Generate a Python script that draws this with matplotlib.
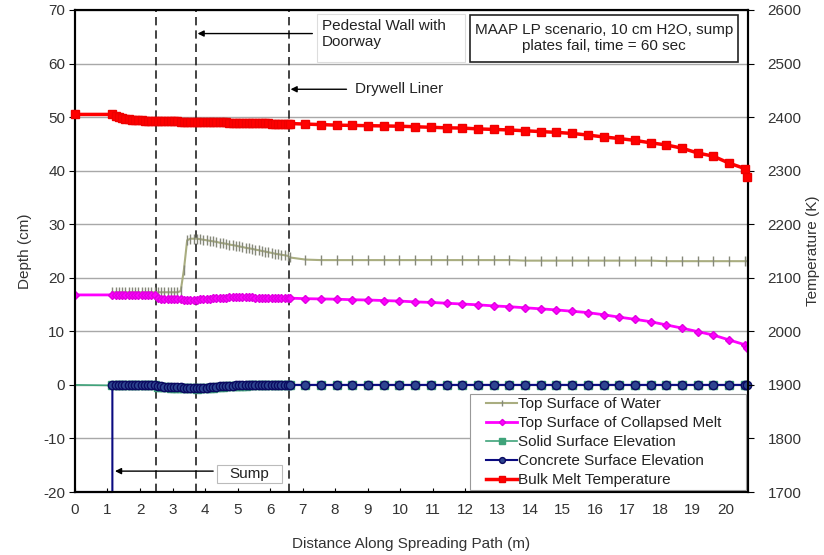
import numpy as np
import matplotlib
matplotlib.use("Agg")
import matplotlib.pyplot as plt
from matplotlib.patches import Rectangle

plt.rcParams['font.family'] = ['Liberation Sans', 'DejaVu Sans']
plt.rcParams['font.size'] = 11
plt.rcParams['axes.unicode_minus'] = False

# Spreading-path grid: fine cells inside the pedestal, coarse cells beyond the liner
x_fine = np.round(1.15 + 0.1 * np.arange(55), 3)
x_coarse = np.append(np.linspace(6.6, 20.6, 30), 20.68)

# Bulk melt temperature (K)
temp_start = 2405
temp_fine = [2405, 2402, 2400, 2398, 2397, 2396, 2395, 2394.5, 2394, 2394,
             2393.5, 2393.5, 2393, 2393, 2393, 2392.5, 2392.5, 2392.5, 2392, 2392,
             2392, 2391.5, 2391.5, 2391.5, 2391, 2391, 2391, 2391, 2390.5, 2390.5,
             2390.5, 2390.5, 2390, 2390, 2390, 2390, 2389.5, 2389.5, 2389.5, 2389.5,
             2389, 2389, 2389, 2389, 2388.5, 2388.5, 2388.5, 2388.5, 2388.5, 2388,
             2388, 2388, 2388, 2388, 2388]
temp_coarse = [2388, 2387, 2386, 2385, 2384.5, 2384, 2383.5, 2383, 2382, 2381,
               2380, 2379.5, 2378, 2377, 2376, 2374.5, 2373, 2371.5, 2369.5, 2366.5,
               2363, 2360, 2356.5, 2352, 2348, 2342, 2333, 2327, 2314, 2304, 2288]

# Top surface of collapsed melt (cm)
melt_start = 16.8
melt_fine = [16.8] * 14 + [
    16.2, 16.1, 16.1, 16.0, 16.0, 16.0, 15.95, 15.95, 15.9, 15.9,
    15.9, 15.9, 15.9, 15.95, 16.0, 16.05, 16.1, 16.15, 16.2, 16.25,
    16.3, 16.3, 16.35, 16.35, 16.4, 16.4, 16.4, 16.4, 16.35, 16.35,
    16.3, 16.3, 16.3, 16.25, 16.25, 16.2, 16.2, 16.2, 16.2, 16.2, 16.2]
melt_coarse = [16.2, 16.1, 16.05, 16.0, 15.9, 15.85, 15.75, 15.65, 15.5, 15.4,
               15.25, 15.1, 14.95, 14.75, 14.6, 14.4, 14.2, 14.0, 13.75, 13.5,
               13.1, 12.65, 12.25, 11.8, 11.2, 10.6, 9.95, 9.3, 8.4, 7.5, 6.9]

# Top surface of water (cm)
water_fine = [17.3] * 21 + [
    17.5, 21.5, 27.0, 27.3, 27.3, 27.3, 27.2, 27.1, 27.0, 26.9,
    26.8, 26.7, 26.55, 26.45, 26.35, 26.2, 26.1, 26.0, 25.85, 25.75,
    25.6, 25.5, 25.4, 25.25, 25.15, 25.0, 24.9, 24.75, 24.65, 24.5,
    24.4, 24.3, 24.2, 24.1]
water_coarse = [23.8, 23.4, 23.3, 23.3, 23.3, 23.3, 23.3, 23.3, 23.3, 23.3,
                23.3, 23.3, 23.3, 23.3, 23.3, 23.2, 23.2, 23.2, 23.2, 23.2,
                23.2, 23.2, 23.2, 23.2, 23.1, 23.1, 23.1, 23.1, 23.1, 23.1, 23.1]

# Concrete and solid surface elevations (cm)
sump_floor = -20.0
concrete_fine = [0.0] * 14 + [
    -0.3, -0.3, -0.35, -0.35, -0.4, -0.4, -0.45, -0.45, -0.5, -0.5,
    -0.55, -0.55, -0.6, -0.55, -0.5, -0.5, -0.45, -0.4, -0.35, -0.3,
    -0.25, -0.2, -0.2, -0.15, -0.1, -0.1, -0.05, -0.05] + [0.0] * 13
concrete_coarse = [0.0] * 31
solid_fine = [-0.1] * 14 + [
    -0.4, -0.4, -0.45, -0.45, -0.5, -0.5, -0.55, -0.55, -0.6, -0.6,
    -0.65, -0.65, -0.7, -0.65, -0.6, -0.6, -0.55, -0.5, -0.45, -0.4,
    -0.35, -0.3, -0.3, -0.25, -0.2, -0.2, -0.15, -0.15] + [-0.1] * 13
solid_coarse = [0.0] * 31

# Structural locations along the path (m)
sump_edge = 1.15
pedestal_inner = 2.5
pedestal_wall = 3.72
drywell_liner = 6.58

x_ticks = list(range(0, 21))
depth_ticks = list(range(-20, 71, 10))
temp_ticks = list(range(1700, 2601, 100))

fig = plt.figure(figsize=(8.24, 5.55), dpi=100)
ax = fig.add_axes([0.091, 0.1135, 0.8168, 0.8685])
ax2 = ax.twinx()

ax.set_xlim(0, 20.7)
ax.set_ylim(-20, 70)
ax2.set_ylim(1700, 2600)

tick_col = '#333333'
ax.set_xticks(x_ticks)
ax.set_yticks(depth_ticks)
ax2.set_yticks(temp_ticks)
ax.tick_params(axis='x', direction='in', length=3, pad=8, labelsize=11, labelcolor=tick_col)
ax.tick_params(axis='y', direction='out', length=4, pad=3, labelsize=11, labelcolor=tick_col)
ax2.tick_params(axis='y', direction='out', length=4, pad=10, labelsize=11, labelcolor=tick_col)
ax.yaxis.grid(True, color='#a8a8a8', lw=1)
ax.set_axisbelow(True)
for a in (ax, ax2):
    for s in a.spines.values():
        s.set_linewidth(1.5)
        s.set_color('black')

ax.set_xlabel('Distance Along Spreading Path (m)', fontsize=11, color=tick_col, labelpad=14)
ax.set_ylabel('Depth (cm)', fontsize=11, color=tick_col, labelpad=8)
ax2.set_ylabel('Temperature (K)', fontsize=11, color=tick_col, labelpad=3)

# Dashed markers for pedestal wall and drywell liner
for xv in (pedestal_inner, pedestal_wall, drywell_liner):
    ax.axvline(xv, color='#222222', lw=1.2, ls=(0, (5, 3)), zorder=1)

# Water surface
l_water, = ax.plot(np.concatenate([x_fine, x_coarse]), water_fine + water_coarse,
                   color='#a9ad80', lw=1.5, marker='|', ms=7, mew=1,
                   mec='#85887a', zorder=3, label='Top Surface of Water')

# Collapsed melt surface
melt_x = np.concatenate([[0.0], x_fine, x_coarse])
melt_y = [melt_start] + melt_fine + melt_coarse
l_melt, = ax.plot(melt_x, melt_y, color='#ff00ff', lw=2, marker='D', ms=4.5,
                  mec='#e000e0', zorder=4, label='Top Surface of Collapsed Melt')

# Solid surface elevation
solid_x = np.concatenate([[0.0], x_fine, x_coarse])
solid_y = [0.0] + solid_fine + solid_coarse
l_solid, = ax.plot(solid_x, solid_y, color='#3fa37a', lw=1.2, marker='s', ms=6,
                   markevery=list(range(1, len(solid_x))), zorder=4,
                   label='Solid Surface Elevation')

# Concrete surface elevation, including the sump floor
conc_x = np.concatenate([[0.0, sump_edge], x_fine, x_coarse])
conc_y = [sump_floor, sump_floor] + concrete_fine + concrete_coarse
l_conc, = ax.plot(conc_x, conc_y, color='#0a0a80', lw=1.5, marker='o', ms=6,
                  mfc='#2d4590', mec='#0a0a60', markevery=list(range(2, len(conc_x))),
                  zorder=5, label='Concrete Surface Elevation', clip_on=False)

# Bulk melt temperature on the right axis
temp_x = np.concatenate([[0.0], x_fine, x_coarse])
temp_y = [temp_start] + temp_fine + temp_coarse
l_temp, = ax2.plot(temp_x, temp_y, color='#ff0000', lw=2.5, marker='s', ms=6,
                   mec='#ee0000', zorder=5, label='Bulk Melt Temperature', clip_on=False)

# Annotations
arrow_kw = dict(arrowstyle='-|>', color='black', lw=1, mutation_scale=9, shrinkA=0, shrinkB=0)

ax.add_patch(Rectangle((7.45, 60.2), 4.55, 9.0, facecolor='white', edgecolor='#dddddd',
                       lw=0.8, zorder=2))
ax.text(7.6, 68.4, 'Pedestal Wall with\nDoorway', ha='left', va='top',
        fontsize=11, color='#222222', linespacing=1.25, zorder=6)
ax.annotate('', xy=(pedestal_wall + 0.05, 65.6), xytext=(7.3, 65.6),
            arrowprops=arrow_kw, zorder=6)

ax.text(8.6, 55.3, 'Drywell Liner', ha='left', va='center', fontsize=11,
        color='#222222', zorder=6)
ax.annotate('', xy=(drywell_liner + 0.05, 55.2), xytext=(8.35, 55.2),
            arrowprops=arrow_kw, zorder=6)

ax.add_patch(Rectangle((12.15, 60.3), 8.25, 8.8, facecolor='white', edgecolor='#222222',
                       lw=1.2, zorder=6))
ax.text(16.28, 64.75, 'MAAP LP scenario, 10 cm H2O, sump\nplates fail, time = 60 sec',
        ha='center', va='center', fontsize=11, color='#222222', linespacing=1.25, zorder=7)

ax.add_patch(Rectangle((4.37, -18.4), 2.0, 3.4, facecolor='white', edgecolor='#bbbbbb',
                       lw=0.8, zorder=6))
ax.text(5.37, -16.7, 'Sump', ha='center', va='center', fontsize=11, color='#222222', zorder=7)
ax.annotate('', xy=(sump_edge + 0.08, -16.1), xytext=(4.25, -16.1),
            arrowprops=arrow_kw, zorder=6)

# Legend panel in the lower-right corner
ax2.add_patch(Rectangle((0.587, 0.004), 0.41, 0.2, transform=ax2.transAxes,
                        facecolor='white', edgecolor='#999999', lw=0.8, zorder=4))
leg = ax2.legend(handles=[l_water, l_melt, l_solid, l_conc, l_temp],
                 loc='upper left', bbox_to_anchor=(0.609, 0.2), borderaxespad=0,
                 borderpad=0.1, fontsize=11, frameon=False, handlelength=2.0,
                 handletextpad=0.1, labelspacing=0.33, markerscale=0.7)
leg.set_zorder(6)
for t in leg.get_texts():
    t.set_color('#222222')

fig.savefig('out.png', dpi=100)
